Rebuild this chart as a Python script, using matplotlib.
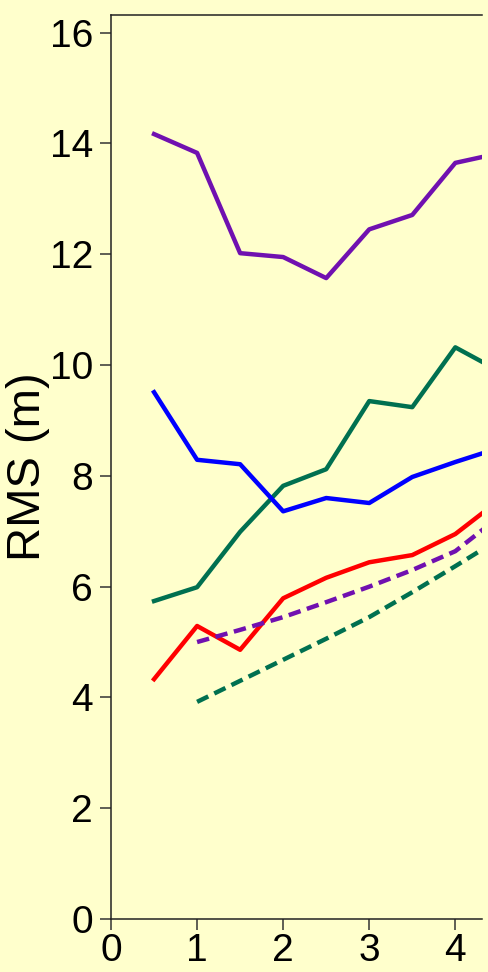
import matplotlib
matplotlib.use("Agg")
import matplotlib.pyplot as plt

# Range step (km) and RMS error (m) for each series
x_solid = [0.5, 1.0, 1.5, 2.0, 2.5, 3.0, 3.5, 4.0, 4.5]
rms_purple = [14.17, 13.83, 12.02, 11.95, 11.57, 12.45, 12.71, 13.65, 13.82]
rms_green = [5.74, 5.99, 6.99, 7.82, 8.12, 9.35, 9.24, 10.32, 9.90]
rms_blue = [9.51, 8.29, 8.21, 7.36, 7.60, 7.51, 7.98, 8.25, 8.50]
rms_red = [4.33, 5.29, 4.86, 5.79, 6.16, 6.44, 6.57, 6.95, 7.55]

x_dashed = [1.0, 1.5, 2.0, 2.5, 3.0, 3.5, 4.0, 4.5]
rms_purple_dash = [5.00, 5.22, 5.45, 5.72, 6.00, 6.30, 6.64, 7.25]
rms_green_dash = [3.92, 4.30, 4.68, 5.06, 5.45, 5.90, 6.37, 6.85]

xticks = [0, 1, 2, 3, 4]
yticks = [0, 2, 4, 6, 8, 10, 12, 14, 16]

bg = "#FFFFCC"
purple = "#7010B0"
green = "#007050"
blue = "#0000FF"
red = "#FF0000"

plt.rcParams["font.family"] = ["Liberation Sans", "DejaVu Sans"]

fig = plt.figure(figsize=(4.88, 9.72), dpi=100, facecolor=bg)
ax = fig.add_axes([0.2275, 0.0545, 0.7602, 0.9301], facecolor=bg)

lw = 3.2
ax.plot(x_solid, rms_purple, color=purple, lw=lw)
ax.plot(x_solid, rms_green, color=green, lw=lw)
ax.plot(x_solid, rms_blue, color=blue, lw=lw)
ax.plot(x_solid, rms_red, color=red, lw=lw)
ax.plot(x_dashed, rms_purple_dash, color=purple, lw=lw, dashes=(2.8, 1.5))
ax.plot(x_dashed, rms_green_dash, color=green, lw=lw, dashes=(2.8, 1.5))

ax.set_xlim(0, 4.31)
ax.set_ylim(0, 16.32)
ax.set_xticks(xticks)
ax.set_yticks(yticks)
ax.tick_params(axis="both", direction="out", length=8, width=1.1,
               labelsize=28, color="#333333")
ax.tick_params(axis="y", pad=5)
ax.tick_params(axis="x", pad=2)

for side in ("left", "bottom", "top"):
    ax.spines[side].set_linewidth(1.1)
    ax.spines[side].set_color("#222222")
ax.spines["right"].set_visible(False)

ax.set_ylabel("RMS (m)", fontsize=34, labelpad=0)

fig.savefig("out.png", dpi=100, facecolor=bg)
